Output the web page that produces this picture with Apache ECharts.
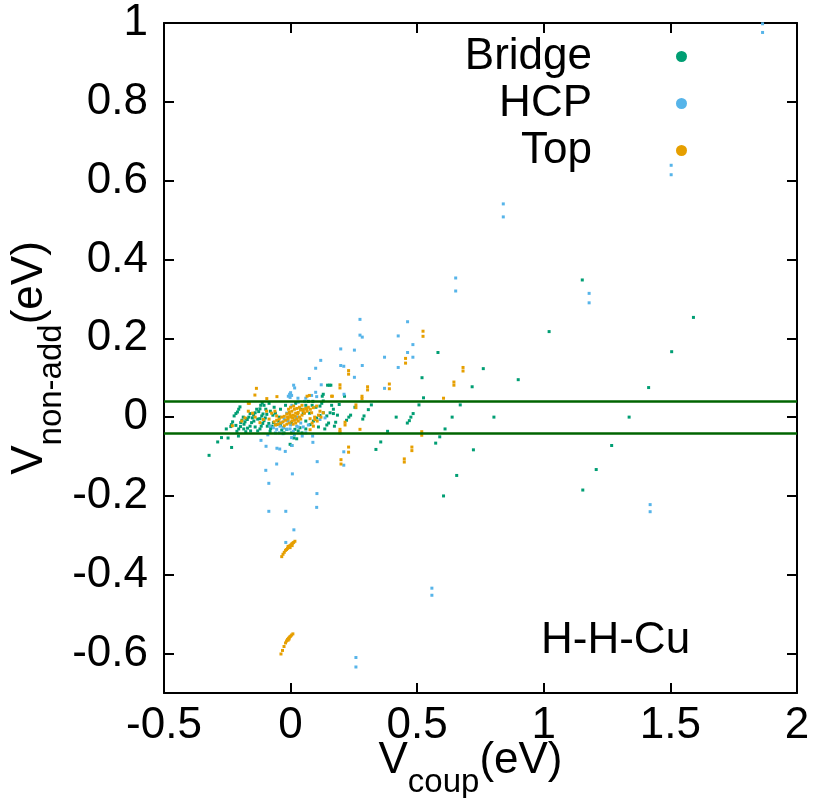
<!DOCTYPE html>
<html>
<head>
<meta charset="utf-8">
<script src="https://cdn.jsdelivr.net/npm/echarts@6/dist/echarts.min.js"></script>
<style>
html,body{margin:0;padding:0;background:#fff;}
#chart{width:817px;height:798px;}
</style>
</head>
<body>
<div id="chart"></div>
<script>
// ---------- data ----------
const seriesNames = ['Bridge', 'HCP', 'Top'];
const xTicks = [-0.5, 0, 0.5, 1, 1.5, 2];
const yTicks = [-0.6, -0.4, -0.2, 0, 0.2, 0.4, 0.6, 0.8, 1];
const accuracyLines = [0.0434, -0.0434];

const bridgePoints = [
  [1.152,0.348],[1.021,0.217],[1.591,0.253],[1.505,0.166],[1.414,0.075],[1.337,0.000],[1.268,-0.072],[1.207,-0.133],[1.154,-0.185],
  [0.582,0.164],[0.761,0.123],[0.519,0.100],[0.899,0.095],[0.717,0.077],[0.525,0.049],[0.507,0.031],[0.670,0.031],[0.484,0.009],
  [0.417,0.000],[0.475,0.000],[0.469,-0.009],[0.461,-0.015],[0.638,0.000],[0.803,0.000],[0.610,-0.030],[0.383,-0.036],[0.589,-0.050],
  [0.356,-0.063],[0.573,-0.066],[0.337,-0.082],[0.722,-0.083],[0.656,-0.148],[0.604,-0.200],
  [0.319,0.031],[0.254,0.025],[0.307,0.019],[0.237,0.005],[0.230,0.000],[0.221,-0.008],[0.290,0.003],[0.285,-0.005],[0.213,0.053],
  [0.153,0.081],[0.125,0.053],[0.192,0.032],[0.169,0.009],[0.143,-0.020],[0.024,-0.055],
  [-0.322,-0.097],[-0.288,-0.063],[-0.273,-0.052],[-0.233,-0.077],[-0.247,-0.053],[-0.206,-0.048],[-0.177,-0.037],[-0.254,-0.030],
  [-0.236,-0.024],[-0.002,-0.069],[0.005,-0.072],[0.013,-0.053],
  [-0.200,0.026],[-0.205,0.020],[-0.210,0.013],[-0.216,0.009],[-0.223,0.003],
  [-0.229,-0.012],[-0.234,-0.019],[-0.216,-0.021],
  [-0.187,0.000],[-0.192,-0.008],[-0.197,-0.014],
  [-0.176,-0.004],[-0.180,-0.012],[-0.184,-0.018],
  [-0.160,0.009],[-0.165,0.000],[-0.171,-0.006],
  [-0.134,0.020],[-0.140,0.011],[-0.146,0.005],[-0.151,-0.002],
  [-0.121,0.021],[-0.126,0.014],
  [-0.160,-0.023],[-0.154,-0.014],
  [-0.121,-0.004],[-0.114,0.003],[-0.109,0.008],
  [-0.094,0.007],[-0.100,-0.002],[-0.105,-0.009],[-0.110,-0.016],[-0.116,-0.023],
  [-0.092,-0.023],[-0.086,-0.016],
  [-0.068,-0.014],[-0.073,-0.023],[-0.079,-0.029],
  [-0.049,-0.010],[-0.055,-0.019],
  [-0.029,-0.027],[-0.035,-0.033],
  [0.004,-0.014],[-0.015,-0.031],[-0.026,-0.040],[-0.121,-0.030],[-0.081,-0.036],
  [0.004,-0.040],[0.017,-0.031],[0.037,-0.027],
  [0.077,-0.019],[0.090,-0.010],[0.103,-0.002],[0.116,0.004],[0.129,0.011],
  [0.116,0.028],[0.123,0.035],[0.129,0.041],
  [0.143,0.003],[0.156,0.011],[0.169,0.020],
  [0.178,-0.013],[0.173,-0.023],
  [0.129,0.058],[0.146,0.081],[0.159,0.081],
  [0.040,0.020],[0.050,0.010],[0.060,0.030],[-0.040,0.020],[-0.060,0.010],[0.020,0.035],[0.070,0.040],[0.085,0.030],
  [0.100,0.025],[-0.020,0.030],[0.030,-0.035],[0.060,-0.030],[0.045,-0.040],[-0.140,-0.025],[-0.130,-0.035],[-0.105,0.030],
  [-0.085,0.035],[-0.065,0.025],
  [-0.205,-0.030],[-0.212,-0.036],[-0.198,-0.024],[-0.185,-0.030],[-0.170,-0.028],[-0.158,-0.035],[-0.145,-0.010],[-0.130,-0.005],
  [-0.118,0.030],[-0.112,0.036],[-0.098,0.020],[-0.080,0.015],[-0.070,0.005],[-0.045,0.000],[-0.040,-0.020],[0.060,-0.010],
  [0.075,0.010],[0.088,0.040],[0.110,-0.025],[0.135,-0.030],[0.150,-0.015],[0.162,0.030],[0.185,0.005]
];

const hcpPoints = [
  [1.864,0.998],[1.864,0.976],[1.503,0.639],[1.503,0.615],[0.840,0.541],[0.840,0.508],[0.652,0.353],[0.652,0.320],[1.179,0.314],[1.179,0.290],
  [0.274,0.248],[0.462,0.242],[0.274,0.208],[0.283,0.203],[0.425,0.206],[0.483,0.184],[0.198,0.173],[0.252,0.170],[0.462,0.164],
  [0.371,0.152],[0.483,0.152],[0.198,0.131],[0.210,0.129],[0.283,0.131],[0.425,0.126],[0.119,0.144],[0.099,0.124],[0.252,0.101],
  [0.074,0.098],[0.121,0.082],[0.371,0.073],[0.016,0.074],[0.099,0.063],[0.211,0.058],[0.029,0.048],
  [-0.009,0.053],[-0.004,0.058],[0.000,0.062],[0.004,0.055],[-0.002,0.050],[0.083,0.055],[0.012,0.081],[0.103,0.052],
  [-0.117,-0.059],[-0.097,-0.074],[-0.054,-0.079],[-0.043,-0.081],[-0.021,-0.087],[0.088,-0.064],[0.087,-0.048],[0.005,-0.072],
  [0.105,-0.113],[0.210,-0.088],[0.210,-0.122],[-0.055,-0.119],[-0.098,-0.135],[0.007,-0.144],[-0.086,-0.168],[0.104,-0.194],
  [0.103,-0.229],[-0.086,-0.239],[-0.019,-0.239],[0.013,-0.286],[-0.019,-0.318],[0.258,-0.610],[0.258,-0.634],
  [0.558,-0.434],[0.558,-0.452],[1.420,-0.222],[1.420,-0.240],
  [-0.042,-0.023],[-0.029,-0.027],[-0.015,-0.031],[-0.002,-0.030],[0.011,-0.036],[-0.055,-0.031],[-0.068,-0.027],[-0.081,-0.023],
  [-0.035,-0.014],[0.024,-0.023],[0.116,-0.006],[0.136,-0.002],[0.046,-0.048],[0.004,-0.052],
  [-0.010,-0.010],[0.000,-0.020],[0.020,-0.005],[-0.025,-0.005],[0.030,-0.025],[0.040,-0.015],[-0.045,-0.040],[-0.030,-0.042],
  [0.015,-0.045],[0.060,-0.040],[0.050,-0.025],[-0.060,-0.040],[0.070,-0.020],[-0.090,-0.045],[0.025,0.000],[-0.015,0.010],
  [0.005,0.030],[0.030,0.038],[0.055,0.040],[0.060,0.048]
];

const topPoints = [
  [0.523,0.218],[0.523,0.205],[0.454,0.149],[0.454,0.137],[0.229,0.118],[0.229,0.109],[0.681,0.126],[0.681,0.117],[0.390,0.084],
  [0.390,0.072],[0.304,0.077],[0.304,0.069],[0.645,0.089],[0.645,0.081],[0.195,0.082],[0.195,0.074],[0.282,0.053],[0.282,0.047],
  [0.604,0.048],[0.258,0.031],[0.258,0.024],[0.215,-0.013],[0.215,-0.020],[0.195,-0.031],[0.195,-0.037],[0.274,-0.031],[0.518,-0.037],
  [0.518,-0.046],[0.229,-0.076],[0.229,-0.089],[0.479,-0.076],[0.479,-0.085],[0.449,-0.106],[0.449,-0.114],[0.199,-0.108],[0.199,-0.119],
  [0.077,-0.032],[-0.135,0.073],[-0.141,0.056],[-0.054,0.052],[-0.094,0.047],[0.065,0.053],[0.074,0.055],[0.165,0.053],[-0.230,-0.022],
  [-0.163,0.035],[-0.167,0.035],
  [-0.035,-0.354],[-0.030,-0.348],[-0.025,-0.343],[-0.020,-0.338],[-0.016,-0.336],[-0.012,-0.333],[-0.008,-0.330],[-0.004,-0.327],
  [0.000,-0.325],[0.004,-0.322],[0.008,-0.320],[0.012,-0.318],[0.017,-0.315],[-0.010,-0.328],[-0.002,-0.331],[0.006,-0.326],
  [-0.038,-0.601],[-0.032,-0.592],[-0.026,-0.582],[-0.020,-0.573],[-0.016,-0.568],[-0.012,-0.564],[-0.008,-0.561],[-0.004,-0.558],
  [0.000,-0.556],[0.004,-0.553],[0.009,-0.550],[-0.010,-0.566],[-0.006,-0.563],
  [0.000,0.000],[0.010,0.005],[-0.010,-0.005],[0.020,0.010],[-0.020,-0.008],[0.030,0.012],[-0.030,-0.012],[0.040,0.018],[-0.040,-0.015],
  [0.050,0.020],[-0.050,-0.018],[0.060,0.022],[-0.060,-0.020],[0.070,0.025],[0.005,0.015],[0.015,0.020],[-0.005,0.012],[0.025,0.022],
  [0.035,0.025],[-0.015,0.008],[-0.025,0.002],[0.005,-0.010],[0.015,-0.008],[0.025,-0.005],[-0.005,-0.015],[-0.015,-0.018],[0.035,0.000],
  [0.045,0.005],[-0.035,0.000],[-0.045,-0.005],[0.055,0.010],[0.000,0.025],[0.010,-0.018],[0.020,-0.015],[-0.025,-0.022],[0.030,-0.010],
  [0.040,-0.005],[0.012,0.028],[-0.008,0.020],[0.045,0.030],[0.065,0.015],[-0.055,-0.008],[-0.065,-0.012],[0.078,0.020],[0.002,0.003],
  [0.008,-0.002],[-0.003,0.007],[0.018,0.002],[-0.012,0.000],[0.028,0.008],
  [0.050,0.015],[0.064,0.020],[0.083,0.011],[0.090,0.024],[0.103,0.028],[0.116,0.015],[0.129,0.011],
  [0.095,0.000],[0.105,-0.010],[0.110,0.005],[0.085,-0.015],[0.120,0.000],
  [-0.180,-0.002],[-0.193,-0.010],[-0.167,0.015],[-0.121,-0.014],[-0.108,-0.006],[-0.062,0.015],[-0.055,0.003],
  [-0.085,-0.005],[-0.075,0.010],[-0.095,0.015],[-0.140,0.000],[-0.150,0.010],
  [0.077,-0.004],[0.090,-0.023],[0.096,-0.006],[0.195,-0.040],[0.162,0.053]
];

// ---------- chart ----------
const FONT = '"Liberation Sans", Arial, Helvetica, sans-serif';
const colors = ['#009e73', '#56b4e9', '#e69f00'];
const pointsBySeries = [bridgePoints, hcpPoints, topPoints];

const chart = echarts.init(document.getElementById('chart'), null, {renderer: 'canvas'});

function axisCommon(showLabels) {
  return {
    axisLine: {show: true, onZero: false, lineStyle: {color: '#000', width: 2}},
    axisTick: {show: true, inside: true, length: 10, lineStyle: {color: '#000', width: 2}},
    splitLine: {show: false},
    axisLabel: {show: showLabels}
  };
}

const option = {
  animation: false,
  backgroundColor: '#fff',
  color: colors,
  grid: {left: 164, right: 20, top: 23, bottom: 105, containLabel: false, outerBoundsMode: 'none'},
  legend: {
    show: true,
    orient: 'vertical',
    left: 442,
    top: 33,
    padding: 0,
    itemGap: 0,
    align: 'right',
    icon: 'circle',
    itemWidth: 11,
    itemHeight: 11,
    data: seriesNames,
    formatter: '{a|{name}}',
    textStyle: {
      fontFamily: FONT, fontSize: 44, color: '#000', lineHeight: 47,
      rich: {a: {fontFamily: FONT, fontSize: 44, lineHeight: 47, width: 150, align: 'right', padding: [0, 79, 0, 0], color: '#000'}}
    }
  },
  xAxis: [
    Object.assign(axisCommon(true), {
      type: 'value', min: -0.5, max: 2, position: 'bottom',
      axisTick: {show: true, inside: true, length: 10, customValues: xTicks, lineStyle: {color: '#000', width: 2}},
      axisLabel: {show: true, customValues: xTicks, fontFamily: FONT, fontSize: 44, color: '#000', margin: 11,
        formatter: v => String(v)},
      name: '{v|V}{s|coup}{v|(eV)}',
      nameLocation: 'middle',
      nameGap: 29,
      nameMoveOverlap: false,
      nameTextStyle: {
        padding: [0, 20, 0, 0],
        rich: {
          v: {fontFamily: FONT, fontSize: 44, color: '#000'},
          s: {fontFamily: FONT, fontSize: 33, color: '#000', padding: [44, 0, 0, 0]}
        }
      }
    }),
    Object.assign(axisCommon(false), {
      type: 'value', min: -0.5, max: 2, position: 'top',
      axisTick: {show: true, inside: true, length: 10, customValues: xTicks, lineStyle: {color: '#000', width: 2}}
    })
  ],
  yAxis: [
    Object.assign(axisCommon(true), {
      type: 'value', min: -0.7, max: 1, position: 'left',
      axisTick: {show: true, inside: true, length: 10, customValues: yTicks, lineStyle: {color: '#000', width: 2}},
      axisLabel: {show: true, customValues: yTicks, fontFamily: FONT, fontSize: 44, color: '#000', margin: 16,
        formatter: v => String(Math.round(v * 10) / 10)},
      name: '{v|V}{s|non-add}{v|(eV)}',
      nameLocation: 'middle',
      nameRotate: 90,
      nameGap: 96,
      nameMoveOverlap: false,
      nameTextStyle: {
        rich: {
          v: {fontFamily: FONT, fontSize: 44, color: '#000'},
          s: {fontFamily: FONT, fontSize: 33, color: '#000', padding: [44, 0, 0, 0]}
        }
      }
    }),
    Object.assign(axisCommon(false), {
      type: 'value', min: -0.7, max: 1, position: 'right',
      axisTick: {show: true, inside: true, length: 10, customValues: yTicks, lineStyle: {color: '#000', width: 2}}
    })
  ],
  series: seriesNames.map((name, i) => ({
    name: name,
    type: 'scatter',
    xAxisIndex: 0,
    yAxisIndex: 0,
    data: pointsBySeries[i],
    symbol: 'rect',
    symbolSize: 3,
    itemStyle: {color: colors[i], opacity: 1},
    z: 2 + i,
    markLine: i === 2 ? {
      silent: true,
      symbol: ['none', 'none'],
      label: {show: false},
      lineStyle: {color: '#006400', width: 2.5, type: 'solid'},
      data: accuracyLines.map(v => ({yAxis: v}))
    } : undefined
  })),
  graphic: [
    {type: 'text', x: 541, y: 641, z: 10,
      style: {text: 'H-H-Cu', font: '44px ' + FONT, fill: '#000', verticalAlign: 'middle', align: 'left'}}
  ]
};

chart.setOption(option);
</script>
</body>
</html>
